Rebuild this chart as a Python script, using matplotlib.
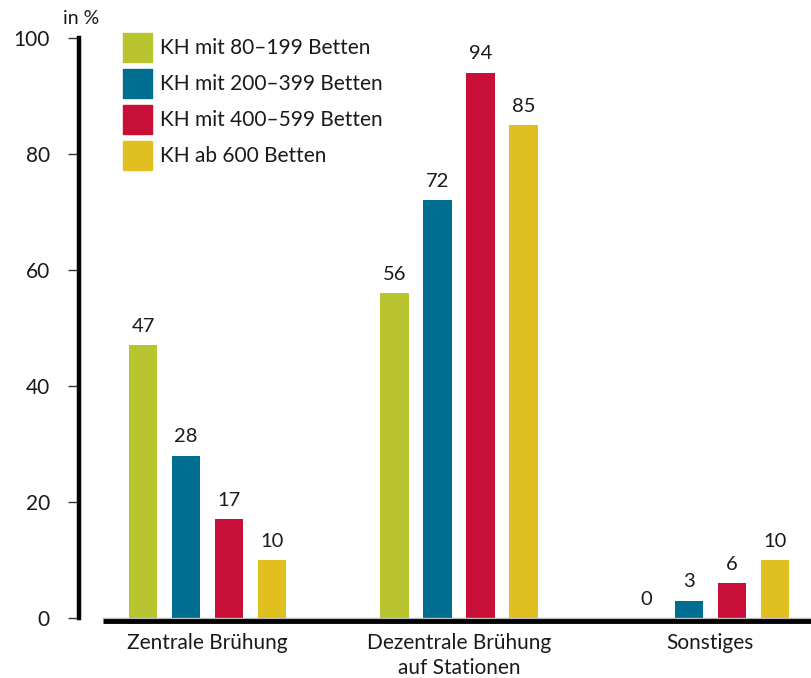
import matplotlib
matplotlib.use('Agg')
import matplotlib.pyplot as plt
from matplotlib.patches import Rectangle
import numpy as np

plt.rcParams['font.family'] = ['Lato', 'DejaVu Sans']

categories = ['Zentrale Brühung', 'Dezentrale Brühung\nauf Stationen', 'Sonstiges']
series = ['KH mit 80–199 Betten', 'KH mit 200–399 Betten', 'KH mit 400–599 Betten', 'KH ab 600 Betten']
values = [
    [47, 56, 0],
    [28, 72, 3],
    [17, 94, 6],
    [10, 85, 10],
]
colors = ['#B9C42E', '#006E91', '#C70F37', '#E0C020']

W, H = 811, 678
fig = plt.figure(figsize=(W / 100, H / 100), dpi=100)
ax = fig.add_axes([79 / W, 60 / H, 1 - 79 / W, 580 / H])

x = np.arange(len(categories))
step = 0.171
width = 0.112
for i, (name, vals, c) in enumerate(zip(series, values, colors)):
    pos = x + (i - 1.5) * step
    ax.bar(pos, vals, width, color=c, label=name, zorder=3)
    for p, v in zip(pos, vals):
        ax.text(p, v + 1.8, str(v), ha='center', va='bottom', fontsize=14.5, color='#1a1a1a')

ax.set_xlim(-0.511, 2.400)
ax.set_ylim(0, 100)

# axes styling
for s in ['top', 'right', 'bottom']:
    ax.spines[s].set_visible(False)
ax.spines['left'].set_linewidth(3.2)
ax.spines['left'].set_color('black')
ax.set_yticks([0, 20, 40, 60, 80, 100])
ax.tick_params(axis='y', length=8, width=1, color='#333333', pad=13, labelsize=15, labelcolor='#1a1a1a')
ax.set_xticks(x)
ax.set_xticklabels(categories, fontsize=15, color='#1a1a1a', linespacing=1.3)
ax.tick_params(axis='x', length=0, pad=11)

# baseline
ax.plot([-0.4155, 2.400], [0, 0], color='#bbbbbb', lw=1, zorder=4, clip_on=False)
ax.plot([-0.4155, 2.400], [-0.45, -0.45], color='black', lw=3.5, zorder=4, clip_on=False,
        solid_capstyle='butt')

fig.text(63 / W, 1 - 18 / H, 'in %', fontsize=14, color='#1a1a1a', ha='left', va='center')

# legend drawn by hand as coloured squares
for i, (name, c) in enumerate(zip(series, colors)):
    top = 33 + 36 * i
    fig.patches.append(Rectangle((123 / W, 1 - (top + 29) / H), 29 / W, 29 / H,
                                 transform=fig.transFigure, color=c, zorder=5))
    fig.text(160 / W, 1 - (top + 15) / H, name, fontsize=15, color='#1a1a1a',
             ha='left', va='center')

fig.savefig('out.png', dpi=100)
